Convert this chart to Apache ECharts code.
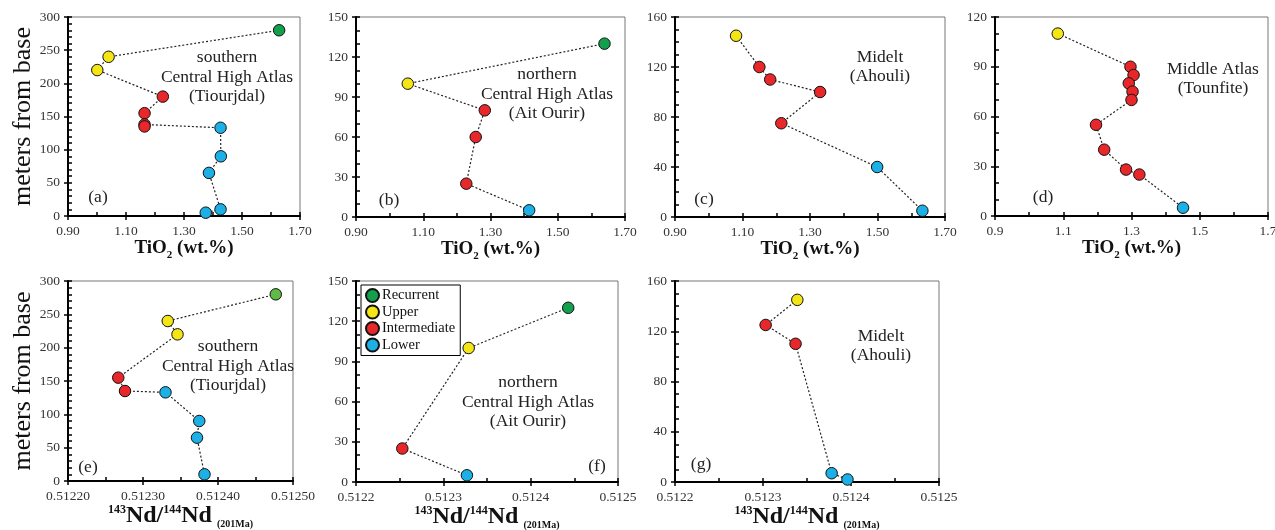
<!DOCTYPE html>
<html>
<head>
<meta charset="utf-8">
<script src="https://cdn.jsdelivr.net/npm/echarts@6/dist/echarts.min.js"></script>
<style>html,body{margin:0;padding:0;background:#fff}#c{width:1275px;height:530px}</style>
</head>
<body>
<div id="c"></div>
<script>
// ---------- data ----------
const groups = ['Recurrent', 'Upper', 'Intermediate', 'Lower'];

// (a) southern Central High Atlas (Tiourjdal) - TiO2
const aTiO2   = [1.628, 1.040, 1.001, 1.227, 1.164, 1.164, 1.164, 1.426, 1.427, 1.386, 1.426, 1.375];
const aHeight = [280, 240, 220, 180, 155, 138, 135, 133, 90, 65, 10, 5];
const aGroup  = ['Recurrent','Upper','Upper','Intermediate','Intermediate','Intermediate','Intermediate','Lower','Lower','Lower','Lower','Lower'];

// (b) northern Central High Atlas (Ait Ourir) - TiO2
const bTiO2   = [1.639, 1.054, 1.283, 1.256, 1.228, 1.415];
const bHeight = [130, 100, 80, 60, 25, 5];
const bGroup  = ['Recurrent','Upper','Intermediate','Intermediate','Intermediate','Lower'];

// (c) Midelt (Ahouli) - TiO2
const cTiO2   = [1.081, 1.150, 1.182, 1.330, 1.215, 1.499, 1.633];
const cHeight = [145, 120, 110, 100, 75, 40, 5];
const cGroup  = ['Upper','Intermediate','Intermediate','Intermediate','Intermediate','Lower','Lower'];

// (d) Middle Atlas (Tounfite) - TiO2
const dTiO2   = [1.084, 1.297, 1.306, 1.292, 1.303, 1.300, 1.196, 1.220, 1.284, 1.323, 1.451];
const dHeight = [110, 90, 85, 80, 75, 70, 55, 40, 28, 25, 5];
const dGroup  = ['Upper','Intermediate','Intermediate','Intermediate','Intermediate','Intermediate','Intermediate','Intermediate','Intermediate','Intermediate','Lower'];

// (e) southern Central High Atlas (Tiourjdal) - Nd
const eNd     = [0.512477, 0.512333, 0.512346, 0.512267, 0.512276, 0.512330, 0.512375, 0.512372, 0.512382];
const eHeight = [280, 240, 220, 155, 135, 133, 90, 65, 10];
const eGroup  = ['Recurrent','Upper','Upper','Intermediate','Intermediate','Lower','Lower','Lower','Lower'];

// (f) northern Central High Atlas (Ait Ourir) - Nd
const fNd     = [0.512443, 0.512329, 0.512253, 0.512327];
const fHeight = [130, 100, 25, 5];
const fGroup  = ['Recurrent','Upper','Intermediate','Lower'];

// (g) Midelt (Ahouli) - Nd
const gNd     = [0.512339, 0.512303, 0.512337, 0.512378, 0.512396];
const gHeight = [145, 125, 110, 7, 2];
const gGroup  = ['Upper','Intermediate','Intermediate','Lower','Lower'];

// tick labels
const tioLabels   = [0.90, 1.10, 1.30, 1.50, 1.70];
const ndLabels    = [0.5122, 0.5123, 0.5124, 0.5125];
const yLabels300  = [0, 50, 100, 150, 200, 250, 300];
const yLabels150  = [0, 30, 60, 90, 120, 150];
const yLabels160  = [0, 40, 80, 120, 160];
const yLabels120  = [0, 30, 60, 90, 120];

// ---------- helpers ----------
function range(a, b, step) {
  const out = [];
  const n = Math.round((b - a) / step);
  for (let i = 0; i <= n; i++) out.push(Math.round((a + i * step) * 1e7) / 1e7);
  return out;
}
const colors = { Recurrent: '#12a04c', Upper: '#f4e515', Intermediate: '#e8272b', Lower: '#1cb0e6' };
const SERIF = '"Liberation Serif", "Times New Roman", serif';
const tickColor = '#000';
const labelColor = '#333';

const tioName = '{b|TiO}{s|2}{b| (wt.%)}';
const tioRich = {
  b: { fontFamily: SERIF, fontWeight: 'bold', fontSize: 19, color: '#111' },
  s: { fontFamily: SERIF, fontWeight: 'bold', fontSize: 11, color: '#111', verticalAlign: 'bottom', padding: [0, 0, -3, 0] }
};
const ndName = '{sup|143}{b|Nd/}{sup|144}{b|Nd}{sub|  (201Ma)}';
const ndRich = {
  b: { fontFamily: SERIF, fontWeight: 'bold', fontSize: 24, color: '#111' },
  sup: { fontFamily: SERIF, fontWeight: 'bold', fontSize: 12, color: '#111', verticalAlign: 'top' },
  sub: { fontFamily: SERIF, fontWeight: 'bold', fontSize: 10, color: '#111', verticalAlign: 'bottom', padding: [0, 0, -2, 0] }
};

const panels = [
  { grid: { left: 68, top: 17, width: 232, height: 199 }, x: aTiO2, y: aHeight, g: aGroup,
    xMin: 0.9, xMax: 1.7, xLab: tioLabels, xAll: range(0.9, 1.7, 0.1), xFmt: v => v.toFixed(2),
    yMax: 300, yLab: yLabels300, yAll: range(0, 300, 10), xName: tioName, xRich: tioRich, xGap: 23, yName: 'meters from base' },
  { grid: { left: 356, top: 17, width: 269, height: 200 }, x: bTiO2, y: bHeight, g: bGroup,
    xMin: 0.9, xMax: 1.7, xLab: tioLabels, xAll: range(0.9, 1.7, 0.1), xFmt: v => v.toFixed(2),
    yMax: 150, yLab: yLabels150, yAll: range(0, 150, 10), xName: tioName, xRich: tioRich, xGap: 23 },
  { grid: { left: 675, top: 17, width: 270, height: 200 }, x: cTiO2, y: cHeight, g: cGroup,
    xMin: 0.9, xMax: 1.7, xLab: tioLabels, xAll: range(0.9, 1.7, 0.1), xFmt: v => v.toFixed(2),
    yMax: 160, yLab: yLabels160, yAll: range(0, 160, 10), xName: tioName, xRich: tioRich, xGap: 23 },
  { grid: { left: 995, top: 17, width: 273, height: 199 }, x: dTiO2, y: dHeight, g: dGroup,
    xMin: 0.9, xMax: 1.7, xLab: tioLabels, xAll: range(0.9, 1.7, 0.1), xFmt: v => v.toFixed(1),
    yMax: 120, yLab: yLabels120, yAll: range(0, 120, 10), xName: tioName, xRich: tioRich, xGap: 23 },
  { grid: { left: 68, top: 281, width: 225, height: 200 }, x: eNd, y: eHeight, g: eGroup,
    xMin: 0.5122, xMax: 0.5125, xLab: [0.51220, 0.51230, 0.51240, 0.51250], xAll: range(0.5122, 0.5125, 0.00005), xFmt: v => v.toFixed(5),
    yMax: 300, yLab: yLabels300, yAll: range(0, 300, 10), xName: ndName, xRich: ndRich, xGap: 20, yName: 'meters from base',
    colorOverride: { Recurrent: '#5fba46' } },
  { grid: { left: 356, top: 281, width: 262, height: 201 }, x: fNd, y: fHeight, g: fGroup,
    xMin: 0.5122, xMax: 0.5125, xLab: ndLabels, xAll: range(0.5122, 0.5125, 0.00005), xFmt: v => v.toFixed(4),
    yMax: 150, yLab: yLabels150, yAll: range(0, 150, 10), xName: ndName, xRich: ndRich, xGap: 20 },
  { grid: { left: 675, top: 281, width: 264, height: 201 }, x: gNd, y: gHeight, g: gGroup,
    xMin: 0.5122, xMax: 0.5125, xLab: ndLabels, xAll: range(0.5122, 0.5125, 0.00005), xFmt: v => v.toFixed(4),
    yMax: 160, yLab: yLabels160, yAll: range(0, 160, 10), xName: ndName, xRich: ndRich, xGap: 20 }
];

const grids = [], xAxes = [], yAxes = [], series = [];
panels.forEach((p, i) => {
  grids.push(Object.assign({ show: true, borderColor: '#777', borderWidth: 1, backgroundColor: 'transparent', outerBoundsMode: 'none', containLabel: false }, p.grid));
  xAxes.push({
    type: 'value', gridIndex: i, min: p.xMin, max: p.xMax, position: 'bottom',
    axisLine: { show: true, onZero: false, lineStyle: { color: '#000', width: 2 } },
    axisTick: { show: true, inside: false, length: 4, customValues: p.xLab, lineStyle: { color: tickColor, width: 1.5 } },
    axisLabel: { customValues: p.xLab, formatter: p.xFmt, margin: 8, color: labelColor, fontFamily: SERIF, fontSize: 13.5 },
    splitLine: { show: false },
    name: p.xName, nameLocation: 'middle', nameGap: p.xGap,
    nameTextStyle: { rich: p.xRich }
  });
  xAxes.push({
    type: 'value', gridIndex: i, min: p.xMin, max: p.xMax, position: 'bottom',
    axisLine: { show: false, onZero: false },
    axisTick: { show: true, inside: true, length: 4, customValues: p.xAll, lineStyle: { color: tickColor, width: 1.5 } },
    axisLabel: { show: false }, splitLine: { show: false }
  });
  yAxes.push({
    type: 'value', gridIndex: i, min: 0, max: p.yMax, position: 'left',
    axisLine: { show: true, onZero: false, lineStyle: { color: '#000', width: 2 } },
    axisTick: { show: true, inside: false, length: 4, customValues: p.yLab, lineStyle: { color: tickColor, width: 1.5 } },
    axisLabel: { customValues: p.yLab, margin: 8, color: labelColor, fontFamily: SERIF, fontSize: 13.5 },
    splitLine: { show: false },
    name: p.yName || '', nameLocation: 'middle', nameGap: 31, nameRotate: 90,
    nameTextStyle: { fontFamily: SERIF, fontSize: 26, color: '#111' }
  });
  yAxes.push({
    type: 'value', gridIndex: i, min: 0, max: p.yMax, position: 'left',
    axisLine: { show: false, onZero: false },
    axisTick: { show: true, inside: true, length: 4, customValues: p.yAll, lineStyle: { color: tickColor, width: 1.5 } },
    axisLabel: { show: false }, splitLine: { show: false }
  });
  series.push({
    type: 'line', xAxisIndex: 2 * i, yAxisIndex: 2 * i, symbol: 'none', silent: true,
    lineStyle: { color: '#222', width: 1.2, type: [2, 2] },
    data: p.x.map((v, k) => [v, p.y[k]]), z: 2
  });
  groups.forEach(gname => {
    const pts = [];
    p.x.forEach((v, k) => { if (p.g[k] === gname) pts.push([v, p.y[k]]); });
    if (!pts.length) return;
    const col = (p.colorOverride && p.colorOverride[gname]) || colors[gname];
    series.push({
      type: 'scatter', name: gname, xAxisIndex: 2 * i, yAxisIndex: 2 * i,
      symbol: 'circle', symbolSize: 11.5,
      itemStyle: { color: col, borderColor: '#111', borderWidth: 1, opacity: 1 },
      data: pts, z: 3
    });
  });
});

const notes = [
  { t: 'southern\nCentral High Atlas\n(Tiourjdal)', x: 227, y: 77 },
  { t: 'northern\nCentral High Atlas\n(Ait Ourir)', x: 547, y: 94 },
  { t: 'Midelt\n(Ahouli)', x: 880, y: 67 },
  { t: 'Middle Atlas\n(Tounfite)', x: 1213, y: 79 },
  { t: 'southern\nCentral High Atlas\n(Tiourjdal)', x: 228, y: 366 },
  { t: 'northern\nCentral High Atlas\n(Ait Ourir)', x: 528, y: 402 },
  { t: 'Midelt\n(Ahouli)', x: 881, y: 346 },
  { t: '(a)', x: 98, y: 197 },
  { t: '(b)', x: 389, y: 200 },
  { t: '(c)', x: 704, y: 199 },
  { t: '(d)', x: 1043, y: 197 },
  { t: '(e)', x: 88, y: 467 },
  { t: '(f)', x: 597, y: 466 },
  { t: '(g)', x: 701, y: 464 }
];
const graphic = notes.map(n => ({
  type: 'text', x: n.x, y: n.y, z: 10, silent: true,
  style: { text: n.t, align: 'center', verticalAlign: 'middle', fontFamily: SERIF, fontSize: 17.5, lineHeight: 19.5, fill: '#222' }
}));

const chart = echarts.init(document.getElementById('c'), null, { renderer: 'canvas' });
chart.setOption({
  animation: false,
  backgroundColor: '#fff',
  grid: grids, xAxis: xAxes, yAxis: yAxes, series: series,
  legend: {
    data: groups, orient: 'vertical', left: 361, top: 285,
    icon: 'circle', itemWidth: 13, itemHeight: 13, itemGap: 1.5,
    padding: [3, 5, 3, 4], borderColor: '#000', borderWidth: 1, backgroundColor: '#fff',
    textStyle: { fontFamily: SERIF, fontSize: 14.5, color: '#111', padding: [0, 0, 0, -2] },
    selectedMode: false, z: 20
  },
  graphic: graphic
});
</script>
</body>
</html>
